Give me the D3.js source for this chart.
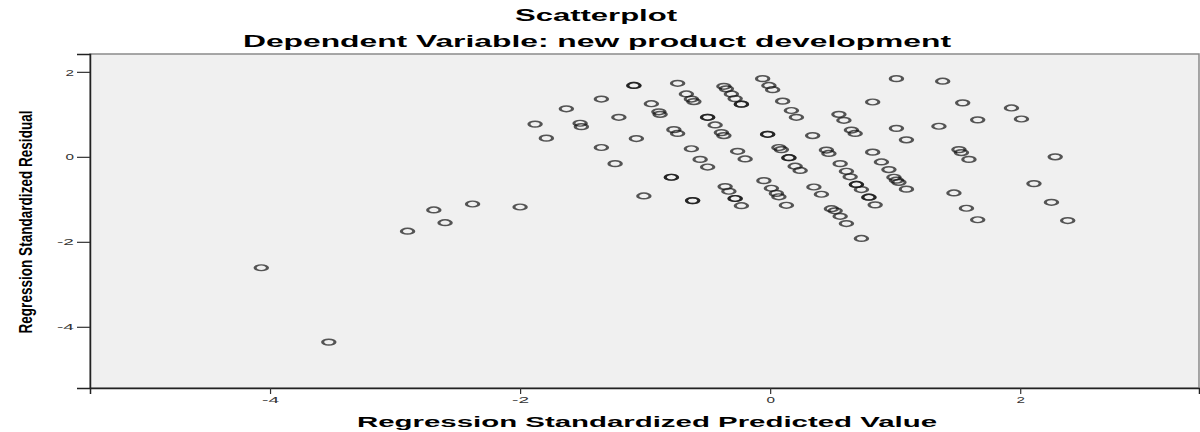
<!DOCTYPE html>
<html lang="en">
<head>
<meta charset="UTF-8" />
<script src="https://d3js.org/d3.v7.min.js"></script>
<title>Scatterplot</title>
<style>
  body { margin: 0; background: #fff; }
  text { font-family: "Liberation Sans", Arial, sans-serif; }
</style>
</head>
<body>
<script>
// regression standardized predicted value (x) and residual (y)
var predicted = [
  -4.07, -3.53, -2.90, -2.69, -2.60, -2.38, -2.00, -1.88, -1.79, -1.63,
  -1.35, -1.52, -1.51, -1.21, -1.07, -1.35, -1.24, -1.09, -1.09, -0.95,
  -0.89, -0.88, -0.74, -0.67, -0.63, -0.61, -0.77, -0.74, -0.63, -0.56,
  -0.50, -0.79, -0.79, -1.01, -0.62, -0.62, -0.50, -0.50, -0.44, -0.39,
  -0.37, -0.37, -0.35, -0.31, -0.28, -0.23, -0.23, -0.26, -0.20, -0.36,
  -0.33, -0.28, -0.28, -0.23, -0.06, -0.01, 0.02, 0.10, 0.17, 0.21,
  -0.02, -0.02, 0.34, 0.07, 0.09, 0.15, 0.15, 0.20, 0.24, -0.05,
  0.01, 0.05, 0.07, 0.13, 0.35, 0.41, 0.45, 0.47, 0.56, 0.61,
  0.64, 0.69, 0.73, 0.79, 0.79, 0.84, 0.49, 0.52, 0.56, 0.61,
  0.55, 0.59, 0.65, 0.68, 0.82, 1.01, 1.38, 1.54, 1.93, 2.01,
  1.66, 1.01, 1.35, 1.09, 0.82, 0.89, 0.95, 0.99, 1.01, 1.03,
  1.09, 1.51, 1.53, 1.59, 2.28, 1.47, 2.11, 1.57, 2.25, 1.66,
  2.38, 0.73, 0.69
];
var residual = [
  -2.61, -4.36, -1.75, -1.25, -1.55, -1.11, -1.18, 0.77, 0.44, 1.13,
  1.36, 0.79, 0.71, 0.93, 0.43, 0.22, -0.16, 1.68, 1.68, 1.25,
  1.06, 1.00, 1.73, 1.48, 1.36, 1.30, 0.64, 0.55, 0.19, -0.06,
  -0.24, -0.48, -0.48, -0.92, -1.03, -1.03, 0.93, 0.93, 0.75, 0.57,
  0.50, 1.66, 1.60, 1.48, 1.37, 1.24, 1.24, 0.13, -0.05, -0.70,
  -0.81, -0.98, -0.98, -1.15, 1.84, 1.68, 1.58, 1.31, 1.09, 0.93,
  0.53, 0.53, 0.50, 0.22, 0.17, -0.02, -0.02, -0.22, -0.32, -0.56,
  -0.74, -0.86, -0.94, -1.14, -0.71, -0.88, 0.16, 0.08, -0.16, -0.34,
  -0.47, -0.65, -0.77, -0.95, -0.95, -1.13, -1.22, -1.27, -1.40, -1.57,
  1.00, 0.86, 0.63, 0.55, 1.29, 1.84, 1.78, 1.27, 1.15, 0.89,
  0.87, 0.67, 0.72, 0.40, 0.11, -0.12, -0.30, -0.48, -0.55, -0.60,
  -0.76, 0.17, 0.10, -0.06, 0.00, -0.85, -0.63, -1.21, -1.07, -1.48,
  -1.50, -1.92, -0.65
];
var xTicks = [-4, -2, 0, 2];
var yTicks = [-4, -2, 0, 2];

var width = 1200, height = 432;
var plot = { left: 90, right: 1199, top: 54, bottom: 388 };

var svg = d3.select("body").append("svg")
    .attr("width", width)
    .attr("height", height);

var x = d3.scaleLinear().domain([-5.44, 3.43]).range([plot.left, plot.right]);
var y = d3.scaleLinear().domain([2.42, -5.44]).range([plot.top, plot.bottom]);

// plot background + frame
svg.append("rect")
    .attr("x", plot.left).attr("y", plot.top)
    .attr("width", plot.right - plot.left).attr("height", plot.bottom - plot.top)
    .attr("fill", "#f0f0f0")
    .attr("stroke", "#8a8a8a")
    .attr("stroke-width", 1.5);

// points (small ellipses, like the stretched SPSS circles)
var data = predicted.map((p, i) => ({ x: p, y: residual[i] }));
svg.append("g").selectAll("g.pt").data(data)
    .enter().append("g").classed("pt", true)
    .attr("transform", d => "translate(" + x(d.x) + "," + y(d.y) + ") scale(1.55,0.72)")
    .append("circle")
    .attr("r", 4)
    .attr("fill", "none")
    .attr("stroke", "#111")
    .attr("stroke-opacity", 0.7)
    .attr("stroke-width", 2);

// axes
var yAxis = svg.append("g")
    .attr("transform", "translate(" + plot.left + ",0)")
    .call(d3.axisLeft(y).tickValues(yTicks).tickFormat(d => String(d)).tickSize(13).tickPadding(3));
var xAxis = svg.append("g")
    .attr("transform", "translate(0," + plot.bottom + ")")
    .call(d3.axisBottom(x).tickValues(xTicks).tickFormat(d => String(d)).tickSize(6).tickPadding(3));

[yAxis, xAxis].forEach(ax => {
    ax.select(".domain").attr("stroke", "#222").attr("stroke-width", 1.5);
    ax.selectAll(".tick line").attr("stroke", "#333").attr("stroke-width", 1.2);
    ax.selectAll(".tick text")
        .attr("font-size", 9)
        .attr("fill", "#333")
        .attr("textLength", d => String(d).length * 8.5)
        .attr("lengthAdjust", "spacingAndGlyphs");
});
yAxis.selectAll(".tick text").attr("dy", "0.35em");

// titles
svg.append("text")
    .attr("x", 596).attr("y", 21)
    .attr("text-anchor", "middle")
    .attr("font-size", 16).attr("font-weight", "bold")
    .attr("textLength", 162).attr("lengthAdjust", "spacingAndGlyphs")
    .text("Scatterplot");

svg.append("text")
    .attr("x", 597).attr("y", 47)
    .attr("text-anchor", "middle")
    .attr("font-size", 16).attr("font-weight", "bold")
    .attr("textLength", 708).attr("lengthAdjust", "spacingAndGlyphs")
    .text("Dependent Variable: new product development");

svg.append("text")
    .attr("x", 647).attr("y", 427)
    .attr("text-anchor", "middle")
    .attr("font-size", 14).attr("font-weight", "bold")
    .attr("textLength", 580).attr("lengthAdjust", "spacingAndGlyphs")
    .text("Regression Standardized Predicted Value");

svg.append("text")
    .attr("transform", "translate(32,222) rotate(-90)")
    .attr("text-anchor", "middle")
    .attr("font-size", 18).attr("font-weight", "bold")
    .attr("textLength", 223).attr("lengthAdjust", "spacingAndGlyphs")
    .text("Regression Standardized Residual");
</script>
</body>
</html>
